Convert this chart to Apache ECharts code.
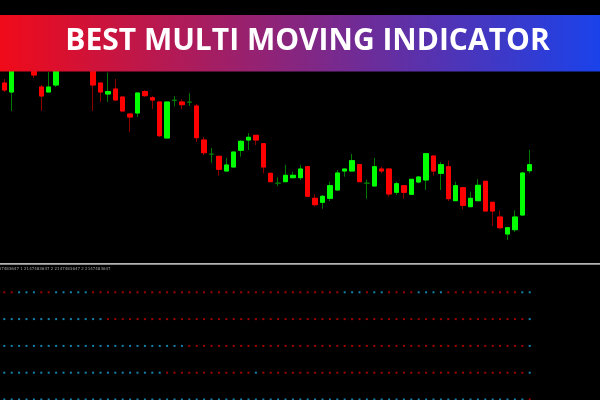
<!DOCTYPE html>
<html>
<head>
<meta charset="utf-8">
<script src="https://cdn.jsdelivr.net/npm/echarts@6/dist/echarts.min.js"></script>
<style>
  html, body { margin: 0; padding: 0; background: #000; }
  #chart { width: 600px; height: 400px; }
</style>
</head>
<body>
<div id="chart"></div>
<script>
// ---- Data (price units are relative chart units) ----
const title = 'BEST MULTI MOVING INDICATOR';
const infoText = '2147483647 1 2147483647 2 2147483647 2 2147483647';
const totalSlots = 81; // 72 bars + empty chart shift on the right

const opens  = [217,208,240,250,238,213,208,215,235,242,238,246,234,217,206,211,203,186,187,208.5,
                202.3,198,162,199.5,198,197.7,194,160,145.7,143.7,129,133,149.7,160,164.7,156.3,126.7,116.7,118.3,122.3,
                122.3,133.3,101.7,97.7,101.7,110,129,129,135.3,116.7,114,131,131,107.7,114.3,105.7,118,120,144,126.7,
                133.3,99.3,112.3,93.3,99.3,118.7,97.7,83,66,70.3,85,129.3];
const closes = [210,240,250,244,225,204,213,235,242,238,246,240,215,208,208.5,200,189,183,207,204.3,
                200,164.3,198,200,195.3,198,162.3,147.3,146,130.7,135,148,158.7,162.7,160,133,118.3,117,124.7,124.7,
                131,103.7,95.3,103.7,114.3,127,131,139.3,118.3,117,133.3,129,106,116.3,107.7,120.7,123,146.3,129,135.3,
                101.3,114.3,94.7,101.7,114.7,89,89,72.3,72.3,83,127,135.3];
const lows   = [208,189,236,238,222,189,208,213,232,234,234,234,189,198,198,199.5,189,168,183,203,
                191,163,162,193.7,190.7,194,158,145,137.3,124.3,129,133,143.3,150,155,126.7,118,114,118,121.7,
                120,103,93.3,91.3,99,110,123.3,129,118,101.3,114,126.7,103.3,105,101.3,105,116.7,110,124.3,110,
                99,99,90.7,93,99,89,74.3,70.7,60,68,84,126.7];
const highs  = [221,245,258,256,244,215,228,240,248,250,252,250,238,217,227.3,221,203,186,207,210,
                204,198,198,204,200.7,206.7,196,163,152,143.7,142,148,160,167,165,157,127,122.7,135,128.3,
                135,134,105.7,105,118.3,130,131.5,146,136,120.3,142,133.3,131,118.3,114.3,121,124,146.3,144,138,
                139.3,118.3,112.3,108.3,120.7,119,98,89.3,72.3,89.7,128,150];

// Multi-MA signal rows: 1 = up (blue), 0 = down (red)
const ma1Signal = [0,0,1,1,1,0,0,1,1,1,1,1,0,0,0,0,0,0,0,0,0,0,0,0,0,0,0,0,0,0,0,0,0,0,0,0,0,0,0,0,
                   0,0,0,0,0,0,1,1,1,0,1,1,0,0,0,0,1,1,1,1,0,0,0,0,0,0,0,0,0,0,1,1];
const ma2Signal = [1,1,1,1,1,1,1,1,1,1,1,1,1,1,0,0,0,0,0,0,0,0,0,0,0,0,0,0,0,0,0,0,0,0,0,0,0,0,0,0,
                   0,0,0,0,0,0,0,0,0,0,0,0,0,0,0,0,0,0,0,0,0,0,0,0,0,0,0,0,0,0,0,1];
const ma3Signal = [1,1,1,1,1,1,1,1,1,1,1,1,1,1,1,1,1,1,1,1,1,1,1,1,1,0,0,0,0,0,0,0,0,0,0,0,0,0,0,0,
                   0,0,0,0,0,0,0,0,0,0,0,0,0,0,0,0,0,0,0,0,0,0,0,0,0,0,0,0,0,0,0,1];
const ma4Signal = [1,1,1,1,1,1,1,1,1,1,1,1,1,1,1,1,1,1,1,1,1,1,0,0,0,0,0,0,0,0,0,0,0,0,1,0,0,0,0,0,
                   0,0,0,0,0,0,0,0,0,0,0,0,0,0,0,0,0,0,0,0,0,0,0,0,0,0,0,0,0,0,0,1];
const ma5Signal = [1,1,1,1,1,1,1,1,1,1,1,1,1,1,1,1,1,1,1,1,1,1,1,1,1,1,1,1,1,1,1,1,1,1,1,1,1,1,1,1,
                   1,1,1,1,1,1,1,1,1,1,1,1,1,1,1,1,1,1,1,1,1,1,1,1,1,1,1,1,1,1,1,0];
const signalRows = [ma1Signal, ma2Signal, ma3Signal, ma4Signal, ma5Signal];

// ---- Build ----
const slots = Array.from({length: totalSlots}, (_, i) => String(i + 1));
const wickData = opens.map((o, i) => [o, closes[i], lows[i], highs[i]]);
const bodyData = opens.map((o, i) => {
  const c = closes[i];
  if (Math.abs(o - c) < 1) return '-';
  return [o, c, Math.min(o, c), Math.max(o, c)];
});
const upDots = [], downDots = [];
signalRows.forEach((row, r) => row.forEach((s, i) => (s ? upDots : downDots).push([i, r + 1])));

const chart = echarts.init(document.getElementById('chart'), null, {renderer: 'canvas'});
chart.setOption({
  backgroundColor: '#000000',
  animation: false,
  grid: [
    {left: 0.6, width: 599.4, top: 0, height: 262},
    {left: 0.6, width: 599.4, top: 265.5, height: 134.5}
  ],
  xAxis: [
    {type: 'category', data: slots, gridIndex: 0, show: false, boundaryGap: true},
    {type: 'category', data: slots, gridIndex: 1, show: false, boundaryGap: true}
  ],
  yAxis: [
    {type: 'value', gridIndex: 0, min: 38, max: 300, show: false},
    {type: 'value', gridIndex: 1, min: 0, max: 5.0187, inverse: true, show: false}
  ],
  series: [
    {
      type: 'candlestick', xAxisIndex: 0, yAxisIndex: 0, data: wickData, barWidth: 5,
      itemStyle: {color: '#007a00', color0: '#8c0000', borderColor: '#007a00', borderColor0: '#8c0000', borderWidth: 1}
    },
    {
      type: 'candlestick', xAxisIndex: 0, yAxisIndex: 0, data: bodyData, barWidth: 5,
      itemStyle: {color: '#00ff00', color0: '#ff0000', borderColor: '#00ff00', borderColor0: '#ff0000', borderWidth: 1}
    },
    {
      type: 'scatter', xAxisIndex: 1, yAxisIndex: 1, data: downDots, symbol: 'rect', symbolSize: [2, 2],
      itemStyle: {color: '#cc0000'}, clip: false
    },
    {
      type: 'scatter', xAxisIndex: 1, yAxisIndex: 1, data: upDots, symbol: 'rect', symbolSize: [2, 2],
      itemStyle: {color: '#1ba3da'}, clip: false
    }
  ],
  graphic: [
    {
      type: 'rect', left: 0, top: 15, z: 100,
      shape: {width: 600, height: 56.5},
      style: {fill: new echarts.graphic.LinearGradient(0, 0, 1, 0, [
        {offset: 0, color: '#f00a19'}, {offset: 1, color: '#1a42ea'}
      ])}
    },
    {
      type: 'text', x: 307.5, y: 41, z: 101,
      style: {text: title, fill: '#ffffff', font: '700 30px "Open Sans"', textAlign: 'center', textVerticalAlign: 'middle'}
    },
    {
      type: 'rect', left: 0, top: 263, z: 100,
      shape: {width: 600, height: 1.8},
      style: {fill: '#b4b4b4'}
    },
    {
      type: 'text', x: -6.5, y: 268.5, z: 100,
      style: {text: infoText, fill: '#a0a0a0', font: '4px "DejaVu Sans"', textVerticalAlign: 'middle'}
    }
  ]
});
</script>
</body>
</html>
